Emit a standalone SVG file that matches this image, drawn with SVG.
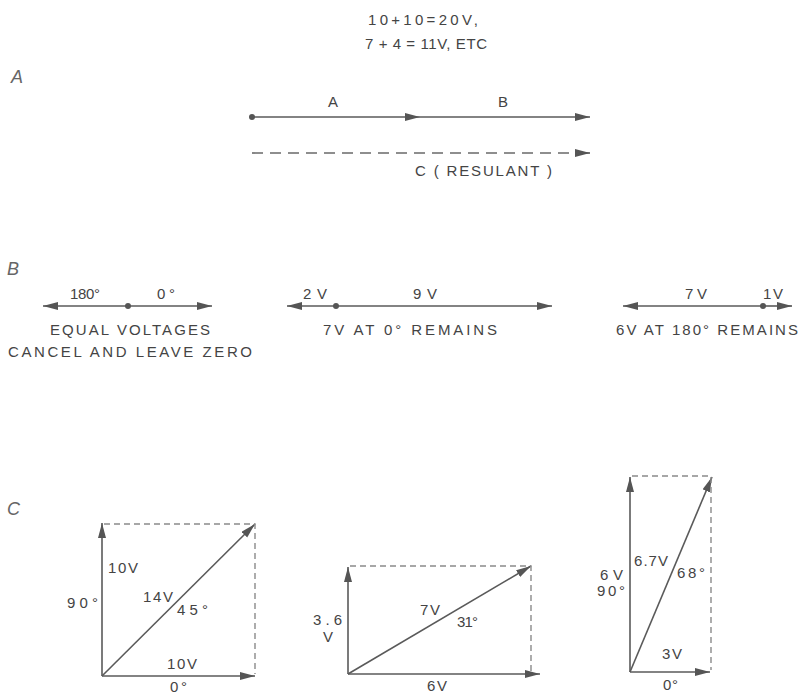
<svg xmlns="http://www.w3.org/2000/svg" width="799" height="694" viewBox="0 0 799 694">
<style>
.t{font-family:"Liberation Sans",Arial,sans-serif;font-size:15px;fill:#444444;}
.s{font-family:"Liberation Sans",Arial,sans-serif;font-size:18px;font-style:italic;fill:#666666;}
.l{stroke:#5a5a5a;stroke-width:1.6;fill:none;}
.d1{stroke:#6a6a6a;stroke-width:1.6;fill:none;stroke-dasharray:11 7;}
.d2{stroke:#8a8a8a;stroke-width:1.4;fill:none;stroke-dasharray:6 4;}
.dot{fill:#555;}
</style>
<defs>
<marker id="ah" markerUnits="userSpaceOnUse" markerWidth="16" markerHeight="9" refX="15" refY="4" orient="auto">
<path d="M0,0 L15,4 L0,8 Z" fill="#555"/>
</marker>
</defs>
<rect width="799" height="694" fill="#ffffff"/>

<g id="title">
<text class="t" x="368" y="25" textLength="110" lengthAdjust="spacing">10+10=20V,</text>
<text class="t" x="365" y="49" textLength="122" lengthAdjust="spacing">7 + 4 = 11V, ETC</text>
</g>

<g id="section-labels">
<text class="s" x="11" y="83">A</text>
<text class="s" x="7" y="275">B</text>
<text class="s" x="7" y="515">C</text>
</g>

<g id="connectors">
<!-- Section A -->
<line class="l" x1="252" y1="117" x2="420" y2="117" marker-end="url(#ah)"/>
<line class="l" x1="420" y1="117" x2="590" y2="117" marker-end="url(#ah)"/>
<line class="d1" x1="252" y1="153" x2="575" y2="153"/>
<line class="l" x1="575" y1="153" x2="590" y2="153" marker-end="url(#ah)"/>
<!-- Section B -->
<line class="l" x1="128" y1="306" x2="43" y2="306" marker-end="url(#ah)"/>
<line class="l" x1="128" y1="306" x2="212" y2="306" marker-end="url(#ah)"/>
<line class="l" x1="336" y1="306" x2="287" y2="306" marker-end="url(#ah)"/>
<line class="l" x1="336" y1="306" x2="552" y2="306" marker-end="url(#ah)"/>
<line class="l" x1="763" y1="306" x2="623" y2="306" marker-end="url(#ah)"/>
<line class="l" x1="763" y1="306" x2="792" y2="306" marker-end="url(#ah)"/>
<!-- Section C diagram 1 -->
<line class="l" x1="102" y1="676" x2="102" y2="523" marker-end="url(#ah)"/>
<line class="l" x1="102" y1="676" x2="255" y2="676" marker-end="url(#ah)"/>
<line class="l" x1="102" y1="676" x2="255" y2="524" marker-end="url(#ah)"/>
<polyline class="d2" points="104,524 255,524 255,674"/>
<!-- Section C diagram 2 -->
<line class="l" x1="348" y1="674" x2="348" y2="567" marker-end="url(#ah)"/>
<line class="l" x1="348" y1="674" x2="540" y2="674" marker-end="url(#ah)"/>
<line class="l" x1="348" y1="674" x2="531" y2="566" marker-end="url(#ah)"/>
<polyline class="d2" points="350,566 531,566 531,672"/>
<!-- Section C diagram 3 -->
<line class="l" x1="630" y1="672" x2="630" y2="477" marker-end="url(#ah)"/>
<line class="l" x1="630" y1="672" x2="710" y2="672" marker-end="url(#ah)"/>
<line class="l" x1="630" y1="672" x2="712" y2="477" marker-end="url(#ah)"/>
<polyline class="d2" points="632,476 711,476 711,670"/>
</g>

<g id="node-A">
<circle class="dot" cx="252" cy="117" r="3"/>
<text class="t" x="328" y="107">A</text>
<text class="t" x="498" y="107">B</text>
<text class="t" x="415" y="176" textLength="137" lengthAdjust="spacing">C ( RESULANT )</text>
</g>

<g id="node-B1">
<circle class="dot" cx="128" cy="306" r="3"/>
<text class="t" x="70" y="299" textLength="30" lengthAdjust="spacing">180°</text>
<text class="t" x="157" y="299" textLength="18" lengthAdjust="spacing">0°</text>
<text class="t" x="50" y="335" textLength="160" lengthAdjust="spacing">EQUAL VOLTAGES</text>
<text class="t" x="8" y="357" textLength="244" lengthAdjust="spacing">CANCEL AND LEAVE ZERO</text>
</g>

<g id="node-B2">
<circle class="dot" cx="336" cy="306" r="3"/>
<text class="t" x="303" y="299" textLength="24" lengthAdjust="spacing">2V</text>
<text class="t" x="413" y="299" textLength="24" lengthAdjust="spacing">9V</text>
<text class="t" x="323" y="335" textLength="174" lengthAdjust="spacing">7V AT 0° REMAINS</text>
</g>

<g id="node-B3">
<circle class="dot" cx="763" cy="306" r="3"/>
<text class="t" x="685" y="299" textLength="22" lengthAdjust="spacing">7V</text>
<text class="t" x="763" y="299" textLength="20" lengthAdjust="spacing">1V</text>
<text class="t" x="616" y="335" textLength="182" lengthAdjust="spacing">6V AT 180° REMAINS</text>
</g>

<g id="node-C1">
<text class="t" x="108" y="573" textLength="30" lengthAdjust="spacing">10V</text>
<text class="t" x="67" y="608" textLength="31" lengthAdjust="spacing">90°</text>
<text class="t" x="143" y="602" textLength="30" lengthAdjust="spacing">14V</text>
<text class="t" x="177" y="615" textLength="31" lengthAdjust="spacing">45°</text>
<text class="t" x="167" y="669" textLength="30" lengthAdjust="spacing">10V</text>
<text class="t" x="170" y="692" textLength="17" lengthAdjust="spacing">0°</text>
</g>

<g id="node-C2">
<text class="t" x="313" y="625" textLength="29" lengthAdjust="spacing">3.6</text>
<text class="t" x="323" y="642">V</text>
<text class="t" x="420" y="615" textLength="20" lengthAdjust="spacing">7V</text>
<text class="t" x="457" y="627" textLength="21" lengthAdjust="spacing">31°</text>
<text class="t" x="427" y="691" textLength="20" lengthAdjust="spacing">6V</text>
</g>

<g id="node-C3">
<text class="t" x="600" y="580" textLength="23" lengthAdjust="spacing">6V</text>
<text class="t" x="597" y="596" textLength="28" lengthAdjust="spacing">90°</text>
<text class="t" x="634" y="566" textLength="34" lengthAdjust="spacing">6.7V</text>
<text class="t" x="677" y="578" textLength="28" lengthAdjust="spacing">68°</text>
<text class="t" x="662" y="659" textLength="20" lengthAdjust="spacing">3V</text>
<text class="t" x="663" y="690" textLength="15" lengthAdjust="spacing">0°</text>
</g>
</svg>
